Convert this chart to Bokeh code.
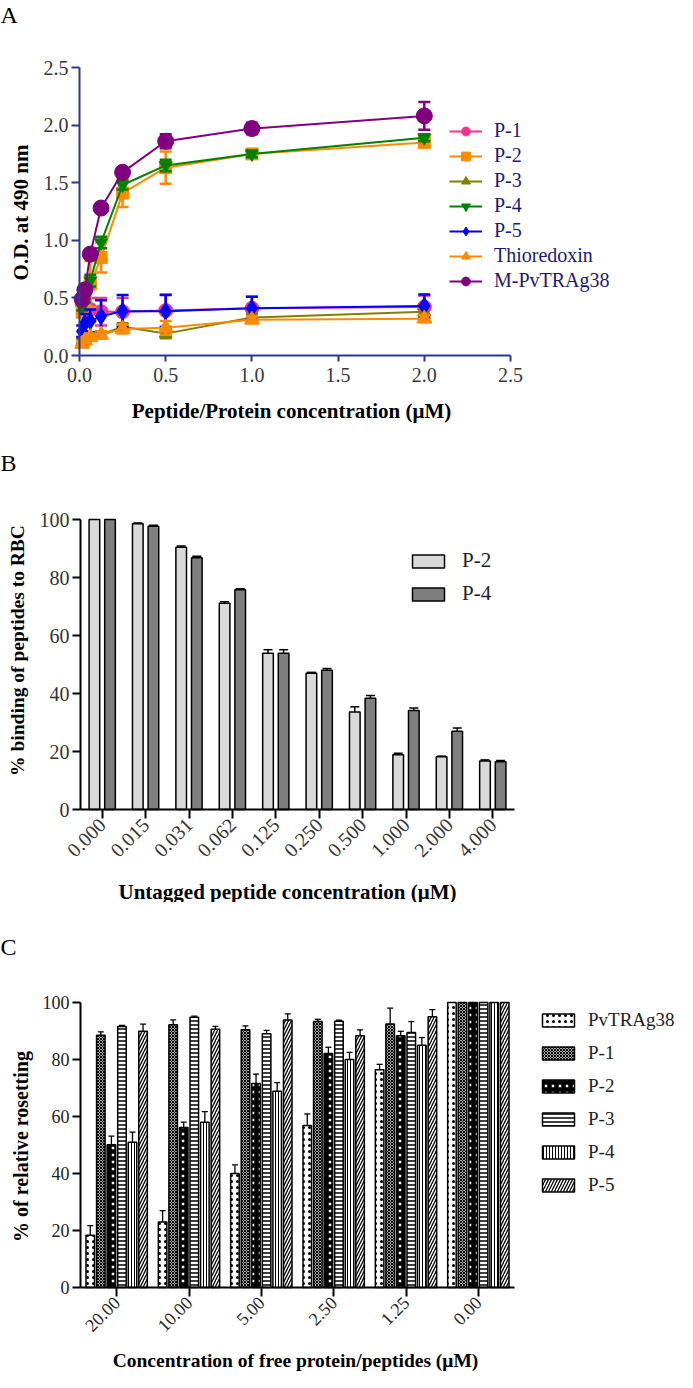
import math
from bokeh.plotting import figure
from bokeh.layouts import column
from bokeh.models import (ColumnDataSource, FixedTicker, Legend, LegendItem, Label,
                          Range1d, PrintfTickFormatter)
from bokeh.embed import file_html
from bokeh.resources import INLINE

SERIF = "Liberation Serif"

# ---------------- Panel A data ----------------
conc_a = [0.015625, 0.03125, 0.0625, 0.125, 0.25, 0.5, 1.0, 2.0]
a_names = ["P-1", "P-2", "P-3", "P-4", "P-5", "Thioredoxin", "M-PvTRAg38"]
od_p1 = [0.45, 0.42, 0.40, 0.38, 0.38, 0.39, 0.41, 0.42]
err_p1 = [0.06, 0.06, 0.10, 0.12, 0.12, 0.14, 0.10, 0.10]
od_p2 = [0.38, 0.50, 0.62, 0.85, 1.41, 1.63, 1.75, 1.85]
err_p2 = [0.05, 0.08, 0.20, 0.13, 0.12, 0.14, 0.03, 0.03]
od_p3 = [0.12, 0.14, 0.17, 0.18, 0.25, 0.19, 0.33, 0.38]
err_p3 = [0.02, 0.02, 0.03, 0.03, 0.03, 0.04, 0.03, 0.03]
od_p4 = [0.42, 0.50, 0.65, 0.98, 1.48, 1.65, 1.75, 1.89]
err_p4 = [0.03, 0.04, 0.05, 0.05, 0.04, 0.05, 0.03, 0.03]
od_p5 = [0.21, 0.28, 0.30, 0.34, 0.385, 0.385, 0.41, 0.43]
err_p5 = [0.05, 0.08, 0.10, 0.14, 0.14, 0.14, 0.10, 0.10]
od_trx = [0.10, 0.13, 0.16, 0.18, 0.23, 0.24, 0.31, 0.32]
err_trx = [0.02, 0.03, 0.03, 0.03, 0.04, 0.06, 0.03, 0.03]
od_m38 = [0.49, 0.57, 0.88, 1.28, 1.59, 1.86, 1.97, 2.08]
err_m38 = [0.03, 0.04, 0.04, 0.04, 0.04, 0.06, 0.05, 0.12]
a_ticks = [0.0, 0.5, 1.0, 1.5, 2.0, 2.5]

# ---------------- Panel B data ----------------
b_labels = ["0.000", "0.015", "0.031", "0.062", "0.125", "0.250", "0.500", "1.000", "2.000", "4.000"]
b_p2 = [100, 98.5, 90.4, 71.1, 53.9, 47.0, 33.6, 18.9, 18.2, 16.7]
b_p2_err = [0, 0.3, 0.5, 0.5, 1.2, 0.3, 1.8, 0.5, 0.2, 0.4]
b_p4 = [100, 97.7, 86.8, 75.8, 53.9, 48.0, 38.4, 34.1, 27.0, 16.5]
b_p4_err = [0, 0.3, 0.5, 0.3, 1.2, 0.6, 0.9, 0.9, 1.1, 0.4]
b_ticks = [0, 20, 40, 60, 80, 100]

# ---------------- Panel C data ----------------
c_labels = ["20.00", "10.00", "5.00", "2.50", "1.25", "0.00"]
c_names = ["PvTRAg38", "P-1", "P-2", "P-3", "P-4", "P-5"]
c_pvtrag = [18.3, 23.0, 40.0, 56.8, 76.4, 100]
c_pvtrag_err = [3.4, 4.0, 3.0, 4.1, 1.9, 0]
c_p1 = [88.5, 92.2, 90.4, 93.3, 92.5, 100]
c_p1_err = [1.2, 1.7, 1.4, 0.8, 5.5, 0]
c_p2 = [50.1, 56.1, 71.6, 82.1, 88.3, 100]
c_p2_err = [3.0, 1.9, 3.3, 2.2, 1.6, 0]
c_p3 = [91.6, 94.8, 89.0, 93.4, 89.5, 100]
c_p3_err = [0.4, 0.4, 1.2, 0.4, 3.8, 0]
c_p4 = [51.0, 58.0, 68.9, 80.0, 85.0, 100]
c_p4_err = [3.5, 3.7, 3.0, 2.5, 2.7, 0]
c_p5 = [89.9, 90.6, 93.9, 88.3, 95.0, 100]
c_p5_err = [2.5, 1.0, 2.1, 2.1, 2.5, 0]
c_ticks = [0, 20, 40, 60, 80, 100]


class Geo:
    """Maps figure pixel positions to data so the plot area can cover the whole figure."""
    def __init__(self, W, H, X0, X1, x0, x1, Y0, Y1, y0, y1):
        self.W, self.H = W, H
        self.X0, self.Y0, self.x0, self.y0 = X0, Y0, x0, y0
        self.sx = (X1 - X0) / (x1 - x0)
        self.sy = (Y0 - Y1) / (y1 - y0)

    def dx(self, X):
        return self.x0 + (X - self.X0) / self.sx

    def dy(self, Y):
        return self.y0 + (self.Y0 - Y) / self.sy

    def figure(self):
        p = figure(width=self.W, height=self.H,
                   x_range=Range1d(self.dx(0), self.dx(self.W)),
                   y_range=Range1d(self.dy(self.H), self.dy(0)),
                   output_backend="svg", toolbar_location=None,
                   min_border_left=0, min_border_right=0, min_border_top=0, min_border_bottom=0)
        p.xgrid.visible = False
        p.ygrid.visible = False
        p.outline_line_color = None
        p.background_fill_color = "white"
        p.border_fill_color = "white"
        return p


def style_axes(p, axis_color, label_color, tick_font, xb, yb):
    for ax, b in ((p.xaxis[0], xb), (p.yaxis[0], yb)):
        ax.bounds = b
        ax.axis_line_color = axis_color
        ax.axis_line_width = 2
        ax.major_tick_line_color = axis_color
        ax.major_tick_line_width = 2
        ax.major_tick_in = 0
        ax.major_tick_out = 8
        ax.minor_tick_line_color = None
        ax.major_label_text_font = SERIF
        ax.major_label_text_font_size = tick_font
        ax.major_label_text_color = label_color
        ax.axis_label = None


def add_text(p, x, y, text, size, bold=False, angle=0.0, color="black",
             align="center", baseline="middle"):
    p.add_layout(Label(x=x, y=y, text=text, text_font=SERIF, text_font_size=size,
                       text_font_style="bold" if bold else "normal", angle=angle,
                       text_align=align, text_baseline=baseline, text_color=color))


# =============== Panel A ===============
NAVY = "#2B3990"
ga = Geo(677, 432, 79, 510, 0.0, 2.5, 355, 67, 0.0, 2.5)
pa = ga.figure()
pa.xaxis[0].fixed_location = 0.0
pa.yaxis[0].fixed_location = 0.0
style_axes(pa, NAVY, "#383838", "20px", (0.0, 2.5), (0.0, 2.5))
pa.xaxis[0].ticker = FixedTicker(ticks=a_ticks)
pa.yaxis[0].ticker = FixedTicker(ticks=a_ticks)
pa.xaxis[0].formatter = PrintfTickFormatter(format="%.1f")
pa.yaxis[0].formatter = PrintfTickFormatter(format="%.1f")
pa.xaxis[0].major_tick_out = 6
pa.xaxis[0].major_label_standoff = 6
pa.yaxis[0].major_label_standoff = 3

a_series = [
    (od_p1, err_p1, "#F5338F", "circle", 14),
    (od_p2, err_p2, "#FF8A00", "square", 12),
    (od_p3, err_p3, "#808000", "triangle", 13),
    (od_p4, err_p4, "#008000", "inverted_triangle", 13),
    (od_p5, err_p5, "#0000FF", "diamond", 17),
    (od_trx, err_trx, "#FF8A00", "triangle", 15),
    (od_m38, err_m38, "#800080", "circle", 16),
]
a_items = []
for name, (vals, errs, col, mk, sz) in zip(a_names, a_series):
    src = ColumnDataSource(dict(x=conc_a, y=vals,
                                lo=[v - e for v, e in zip(vals, errs)],
                                hi=[v + e for v, e in zip(vals, errs)]))
    pa.segment(x0="x", y0="lo", x1="x", y1="hi", source=src, line_color=col, line_width=2.5)
    pa.scatter(x="x", y="hi", source=src, marker="dash", size=12, line_color=col, line_width=2.5)
    pa.scatter(x="x", y="lo", source=src, marker="dash", size=12, line_color=col, line_width=2.5)
    lr = pa.line(x="x", y="y", source=src, line_color=col, line_width=2)
    sr = pa.scatter(x="x", y="y", source=src, marker=mk, size=sz, fill_color=col, line_color=col)
    a_items.append(LegendItem(label=name, renderers=[lr, sr]))

leg_a = Legend(items=a_items, location=(449, 140), orientation="vertical",
               glyph_width=33, glyph_height=22, label_height=22, spacing=2,
               label_standoff=12, padding=0, margin=0,
               border_line_color=None, background_fill_alpha=0,
               label_text_font=SERIF, label_text_font_size="20px",
               label_text_color="#1a1a7a")
pa.add_layout(leg_a, "center")
add_text(pa, ga.dx(291), ga.dy(410), "Peptide/Protein concentration (\u03bcM)", "21px", bold=True)
add_text(pa, ga.dx(20), ga.dy(212), "O.D. at 490 nm", "21px", bold=True, angle=math.pi / 2)
add_text(pa, ga.dx(0), ga.dy(1), "A", "24px", align="left", baseline="top")

# =============== Panel B ===============
gb = Geo(677, 470, 80, 514, -0.5, 9.5, 377, 87, 0.0, 100.0)
pb = gb.figure()
pb.xaxis[0].fixed_location = 0.0
pb.yaxis[0].fixed_location = -0.5
style_axes(pb, "black", "#333333", "20px", (-0.5, 9.5), (0.0, 100.0))
b_x = list(range(len(b_labels)))
pb.xaxis[0].ticker = FixedTicker(ticks=b_x)
pb.xaxis[0].major_label_overrides = {i: lab for i, lab in zip(b_x, b_labels)}
pb.xaxis[0].major_label_orientation = math.pi / 4
pb.xaxis[0].major_label_standoff = 3
pb.xaxis[0].major_tick_out = 9
pb.yaxis[0].ticker = FixedTicker(ticks=b_ticks)
pb.yaxis[0].major_label_standoff = 3

b_series = [("P-2", b_p2, b_p2_err, "#D9D9D9", -0.18), ("P-4", b_p4, b_p4_err, "#7F7F7F", 0.18)]
b_items = []
for name, vals, errs, col, off in b_series:
    xs = [i + off for i in b_x]
    src = ColumnDataSource(dict(x=xs, top=vals))
    r = pb.vbar(x="x", top="top", width=0.245, source=src, fill_color=col,
                line_color="black", line_width=1.5)
    ex = [x for x, e in zip(xs, errs) if e > 0]
    ey0 = [v for v, e in zip(vals, errs) if e > 0]
    ey1 = [v + e for v, e in zip(vals, errs) if e > 0]
    esrc = ColumnDataSource(dict(x=ex, y0=ey0, y1=ey1))
    pb.segment(x0="x", y0="y0", x1="x", y1="y1", source=esrc, line_color="black", line_width=1.5)
    pb.scatter(x="x", y="y1", source=esrc, marker="dash", size=9, line_color="black", line_width=1.5)
    b_items.append(LegendItem(label=name, renderers=[r]))

leg_b = Legend(items=b_items, location=(408, 296), orientation="vertical",
               glyph_width=40, glyph_height=16, label_height=16, spacing=8,
               label_standoff=14, padding=0, margin=0,
               border_line_color=None, background_fill_alpha=0,
               label_text_font=SERIF, label_text_font_size="21px",
               label_text_color="#222222")
pb.add_layout(leg_b, "center")
add_text(pb, gb.dx(287), gb.dy(459), "Untagged peptide concentration (\u03bcM)", "21px", bold=True)
add_text(pb, gb.dx(17), gb.dy(218), "% binding of peptides to RBC", "19.5px", bold=True, angle=math.pi / 2)
add_text(pb, gb.dx(0), gb.dy(17), "B", "24px", align="left", baseline="top")

# =============== Panel C ===============
gc = Geo(677, 470, 80, 514, -0.5, 5.5, 385, 100, 0.0, 100.0)
pc = gc.figure()
pc.xaxis[0].fixed_location = 0.0
pc.yaxis[0].fixed_location = -0.5
style_axes(pc, "black", "#222222", "18px", (-0.5, 5.5), (0.0, 100.0))
c_x = list(range(len(c_labels)))
pc.xaxis[0].ticker = FixedTicker(ticks=c_x)
pc.xaxis[0].major_label_overrides = {i: lab for i, lab in zip(c_x, c_labels)}
pc.xaxis[0].major_label_orientation = math.pi / 4
pc.xaxis[0].major_label_standoff = 3
pc.xaxis[0].major_tick_out = 9
pc.yaxis[0].ticker = FixedTicker(ticks=c_ticks)
pc.yaxis[0].major_label_standoff = 3

c_vals = [c_pvtrag, c_p1, c_p2, c_p3, c_p4, c_p5]
c_errs = [c_pvtrag_err, c_p1_err, c_p2_err, c_p3_err, c_p4_err, c_p5_err]
c_hatch = [
    dict(hatch_pattern="dot", hatch_scale=6, hatch_weight=1.5),
    dict(hatch_pattern="diagonal_cross", hatch_scale=3, hatch_weight=1.2),
    dict(hatch_pattern="cross", hatch_scale=7, hatch_weight=4.5),
    dict(hatch_pattern="horizontal_line", hatch_scale=4, hatch_weight=1.5),
    dict(hatch_pattern="vertical_line", hatch_scale=3, hatch_weight=1),
    dict(hatch_pattern="right_diagonal_line", hatch_scale=6, hatch_weight=1.3),
]
pitch = 0.146
c_items = []
for k, (name, vals, errs, hs) in enumerate(zip(c_names, c_vals, c_errs, c_hatch)):
    off = (k - 2.5) * pitch
    xs = [i + off for i in c_x]
    src = ColumnDataSource(dict(x=xs, top=vals))
    r = pc.vbar(x="x", top="top", width=0.118, source=src, fill_color="white",
                line_color="black", line_width=1.5, hatch_color="black", **hs)
    ex = [x for x, e in zip(xs, errs) if e > 0]
    ey0 = [v for v, e in zip(vals, errs) if e > 0]
    ey1 = [v + e for v, e in zip(vals, errs) if e > 0]
    esrc = ColumnDataSource(dict(x=ex, y0=ey0, y1=ey1))
    pc.segment(x0="x", y0="y0", x1="x", y1="y1", source=esrc, line_color="black", line_width=1.3)
    pc.scatter(x="x", y="y1", source=esrc, marker="dash", size=6, line_color="black", line_width=1.3)
    c_items.append(LegendItem(label=name, renderers=[r]))

leg_c = Legend(items=c_items, location=(538, 176), orientation="vertical",
               glyph_width=40, glyph_height=16, label_height=16, spacing=11,
               label_standoff=10, padding=0, margin=0,
               border_line_color=None, background_fill_alpha=0,
               label_text_font=SERIF, label_text_font_size="19px",
               label_text_color="#222222")
pc.add_layout(leg_c, "center")
add_text(pc, gc.dx(295), gc.dy(458), "Concentration of free protein/peptides (\u03bcM)", "19.5px", bold=True)
add_text(pc, gc.dx(20), gc.dy(244), "% of relative rosetting", "20px", bold=True, angle=math.pi / 2)
add_text(pc, gc.dx(0), gc.dy(31), "C", "24px", align="left", baseline="top")

layout = column(pa, pb, pc, spacing=0)
open("out.html", "w").write(file_html(layout, INLINE))
